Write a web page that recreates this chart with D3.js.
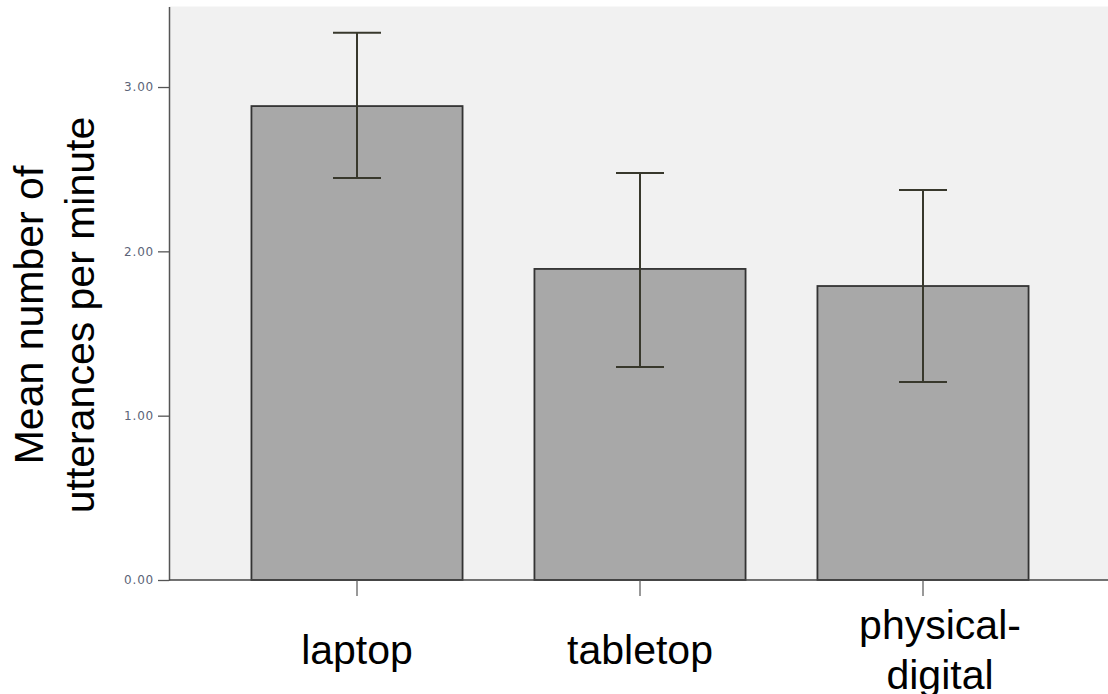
<!DOCTYPE html>
<html>
<head>
<meta charset="utf-8">
<script src="https://cdnjs.cloudflare.com/ajax/libs/d3/7.8.5/d3.min.js"></script>
<style>
  body { margin: 0; background: #fff; }
  svg { display: block; }
</style>
</head>
<body>
<div class="chart"></div>
<script>
// values
const categories = ["laptop", "tabletop", "physical-digital"];
const labelLines = [["laptop"], ["tabletop"], ["physical-", "digital"]];
const means = [2.884, 1.893, 1.789];
const ciLow = [2.446, 1.296, 1.205];
const ciHigh = [3.330, 2.477, 2.373];
const yTicks = [0, 1, 2, 3];

const width = 1108;
const height = 694;
const plotLeft = 169;
const plotBottom = 580;

const svg = d3.select(".chart")
              .append("svg")
              .attr("width", width)
              .attr("height", height);

const x = d3.scaleBand()
            .domain(categories)
            .range([215.5, 1064.5])
            .paddingInner(0.254)
            .paddingOuter(0.127);

const y = d3.scaleLinear()
            .domain([0, 3.49])
            .range([plotBottom, 6.5]);

// plot background
svg.append("rect")
   .attr("x", plotLeft)
   .attr("y", y(3.49))
   .attr("width", width - plotLeft)
   .attr("height", plotBottom - y(3.49))
   .attr("fill", "#f1f1f1");

const rows = categories.map(function(c, i) {
  return { cat: c, mean: means[i], lo: ciLow[i], hi: ciHigh[i], lines: labelLines[i] };
});

// bars
svg.selectAll("rect.bar")
   .data(rows)
   .enter()
   .append("rect")
   .attr("class", "bar")
   .attr("x", function(d) { return x(d.cat); })
   .attr("y", function(d) { return y(d.mean); })
   .attr("width", x.bandwidth())
   .attr("height", function(d) { return plotBottom - y(d.mean); })
   .attr("fill", "#a8a8a8")
   .attr("stroke", "#333")
   .attr("stroke-width", 1.8);

// error bars
const capHalf = 24;
const eb = svg.selectAll("g.err")
              .data(rows)
              .enter()
              .append("g")
              .attr("class", "err")
              .attr("stroke", "#38382c")
              .attr("stroke-width", 2);

eb.append("line")
  .attr("x1", function(d) { return x(d.cat) + x.bandwidth() / 2; })
  .attr("x2", function(d) { return x(d.cat) + x.bandwidth() / 2; })
  .attr("y1", function(d) { return y(d.lo); })
  .attr("y2", function(d) { return y(d.hi); });

eb.append("line")
  .attr("x1", function(d) { return x(d.cat) + x.bandwidth() / 2 - capHalf; })
  .attr("x2", function(d) { return x(d.cat) + x.bandwidth() / 2 + capHalf; })
  .attr("y1", function(d) { return y(d.hi); })
  .attr("y2", function(d) { return y(d.hi); });

eb.append("line")
  .attr("x1", function(d) { return x(d.cat) + x.bandwidth() / 2 - capHalf; })
  .attr("x2", function(d) { return x(d.cat) + x.bandwidth() / 2 + capHalf; })
  .attr("y1", function(d) { return y(d.lo); })
  .attr("y2", function(d) { return y(d.lo); });

// y axis
const yAxis = svg.append("g")
   .attr("transform", "translate(" + plotLeft + ",0)")
   .call(d3.axisLeft(y)
           .tickValues(yTicks)
           .tickFormat(d3.format(".2f"))
           .tickSize(11)
           .tickSizeOuter(0)
           .tickPadding(4));
yAxis.select(".domain").attr("stroke", "#555").attr("stroke-width", 1.5);
yAxis.selectAll(".tick line").attr("stroke", "#555").attr("stroke-width", 1.3);
yAxis.selectAll(".tick text")
     .attr("fill", "#5c6478")
     .style("font-family", "DejaVu Sans")
     .style("font-size", "12px")
     .style("letter-spacing", "0.8px");

// x axis
const xAxis = svg.append("g")
   .attr("transform", "translate(0," + plotBottom + ")")
   .call(d3.axisBottom(x).tickSize(16).tickSizeOuter(0).tickFormat(""));
xAxis.select(".domain").remove();
xAxis.selectAll(".tick line").attr("stroke", "#777").attr("stroke-width", 1.5);

svg.append("line")
   .attr("x1", plotLeft)
   .attr("x2", width)
   .attr("y1", plotBottom)
   .attr("y2", plotBottom)
   .attr("stroke", "#444")
   .attr("stroke-width", 1.6);

// category labels
const labelShift = [0, 0, 17];
const lab = svg.selectAll("text.cat")
   .data(rows)
   .enter()
   .append("text")
   .attr("class", "cat")
   .attr("text-anchor", "middle")
   .style("font-family", "Liberation Sans, Arial, sans-serif")
   .style("font-size", "41px")
   .attr("fill", "#000");

lab.each(function(d, i) {
  const t = d3.select(this);
  const cx = x(d.cat) + x.bandwidth() / 2 + labelShift[i];
  const n = d.lines.length;
  d.lines.forEach(function(line, k) {
    t.append("tspan")
     .attr("x", cx)
     .attr("y", 664 + (k - (n - 1) / 2) * 50)
     .text(line);
  });
});

// y title
const yt = svg.append("text")
   .attr("transform", "translate(0,315) rotate(-90)")
   .attr("text-anchor", "middle")
   .style("font-family", "Liberation Sans, Arial, sans-serif")
   .style("font-size", "41px")
   .attr("fill", "#000");
yt.append("tspan").attr("x", 0).attr("y", 43).text("Mean number of");
yt.append("tspan").attr("x", 0).attr("y", 94).text("utterances per minute");
</script>
</body>
</html>
